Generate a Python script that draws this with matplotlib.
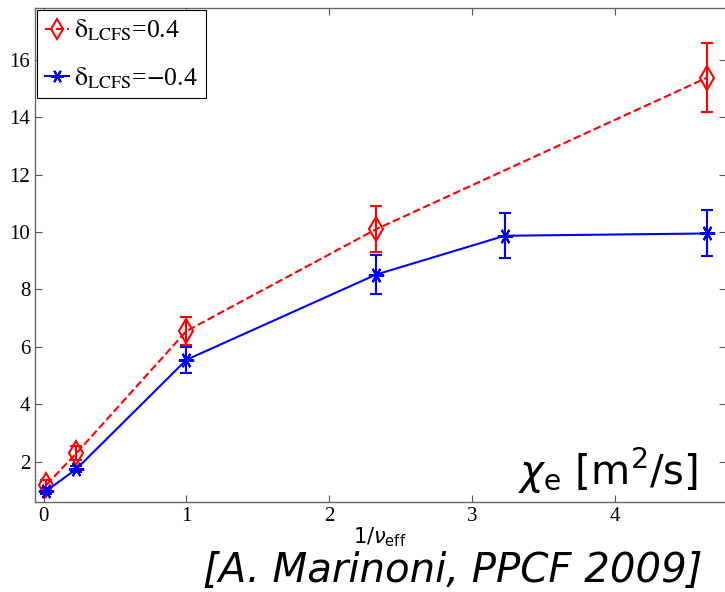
import matplotlib
matplotlib.use('Agg')
import matplotlib.pyplot as plt

# 1/nu_eff positions and chi_e values
x_pos = [0.02, 0.23, 1.0, 2.33, 4.65]
chi_pos = [1.2, 2.3, 6.55, 10.1, 15.38]
err_pos = [0.15, 0.25, 0.5, 0.8, 1.2]

x_neg = [0.02, 0.23, 1.0, 2.33, 3.23, 4.65]
chi_neg = [0.99, 1.75, 5.55, 8.52, 9.87, 9.95]
err_neg = [0.1, 0.12, 0.45, 0.68, 0.78, 0.8]

label_pos = r'$\mathrm{\delta}_{\rm LCFS}$=0.4'
label_neg = r'$\mathrm{\delta}_{\rm LCFS}$=$-$0.4'

fig = plt.figure(figsize=(7.25, 5.92), dpi=100)
ax = fig.add_axes([0.0483, 0.152, 0.9531, 0.8345])

eb_pos = ax.errorbar(x_pos, chi_pos, yerr=err_pos, color='red', linestyle='--',
                     linewidth=1.5, marker='d', markersize=12, markerfacecolor='none',
                     markeredgewidth=1.5, capsize=4.5, elinewidth=1.5, capthick=1.5)
eb_neg = ax.errorbar(x_neg, chi_neg, yerr=err_neg, color='blue', linestyle='-',
                     linewidth=1.5, marker=(6, 2, 90), markersize=11,
                     markeredgewidth=1.5, capsize=4.5, elinewidth=1.5, capthick=1.5)

ax.set_xlim(-0.06, 4.78)
ax.set_ylim(0.6, 17.8)
ax.set_xticks([0, 1, 2, 3, 4])
ax.set_yticks([2, 4, 6, 8, 10, 12, 14, 16])
ax.tick_params(direction='in', top=True, right=True, length=5,
               color='#555555', labelsize=15)
for lab in ax.get_xticklabels() + ax.get_yticklabels():
    lab.set_family('Liberation Serif')
for sp in ax.spines.values():
    sp.set_color('#666666')
    sp.set_linewidth(1.0)

# legend shows only line + marker, like the original
leg = ax.legend([eb_pos[0], eb_neg[0]], [label_pos, label_neg],
                loc='upper left', bbox_to_anchor=(0.003, 0.996),
                borderaxespad=0, fancybox=False, edgecolor='black',
                framealpha=1, handlelength=0.95, handletextpad=0.2,
                borderpad=0.3, labelspacing=0.85, markerscale=0.85,
                prop={'family': 'Liberation Serif', 'size': 18.5})
leg.get_frame().set_linewidth(0.8)
for t in leg.get_texts():
    t.set_math_fontfamily('stix')

fig.text(0.962, 0.205, r'$\chi_{\rm e}$ [m$^2$/s]', ha='right', va='center',
         fontsize=29, family='DejaVu Sans', math_fontfamily='dejavusans')
fig.text(0.524, 0.093, r'1/$\nu_{\rm eff}$', ha='center', va='center',
         fontsize=15, family='DejaVu Sans', math_fontfamily='dejavusans')
fig.text(0.625, 0.036, '[A. Marinoni, PPCF 2009]', ha='center', va='center',
         fontsize=29, family='DejaVu Sans', style='italic')

fig.savefig('out.png', dpi=100)
